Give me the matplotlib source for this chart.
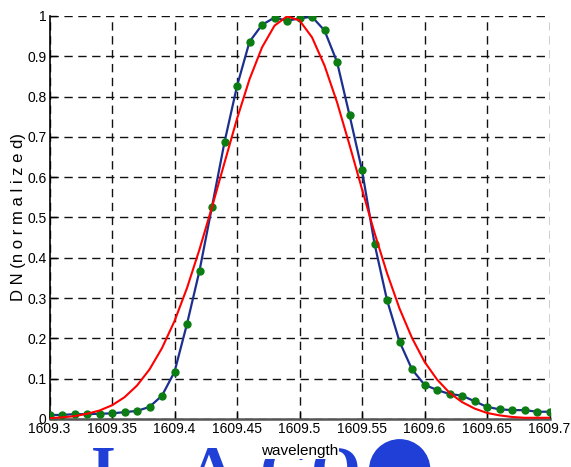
import matplotlib
matplotlib.use("Agg")
import matplotlib.pyplot as plt
from matplotlib.patches import Ellipse
import numpy as np

# wavelength grid (nm), 0.01 nm step
wavelength = np.round(np.arange(1609.30, 1609.705, 0.01), 2)

# measured DN, normalized
dn_measured = [0.010, 0.010, 0.012, 0.012, 0.013, 0.014, 0.017, 0.020, 0.030, 0.058,
               0.117, 0.236, 0.368, 0.527, 0.687, 0.826, 0.936, 0.978, 0.996, 0.988,
               0.994, 0.998, 0.964, 0.886, 0.754, 0.617, 0.435, 0.295, 0.192, 0.123,
               0.085, 0.072, 0.062, 0.058, 0.044, 0.030, 0.024, 0.022, 0.022, 0.018,
               0.018]

# fitted profile
dn_fit = [0.002, 0.004, 0.007, 0.013, 0.021, 0.034, 0.054, 0.083, 0.123, 0.176,
          0.243, 0.325, 0.421, 0.526, 0.636, 0.745, 0.843, 0.922, 0.976, 0.999,
          0.989, 0.947, 0.877, 0.786, 0.680, 0.570, 0.462, 0.362, 0.274, 0.201,
          0.142, 0.098, 0.065, 0.042, 0.026, 0.015, 0.009, 0.005, 0.003, 0.003,
          0.003]

x_ticks = [1609.3, 1609.35, 1609.4, 1609.45, 1609.5, 1609.55, 1609.6, 1609.65, 1609.7]
y_ticks = [0, 0.1, 0.2, 0.3, 0.4, 0.5, 0.6, 0.7, 0.8, 0.9, 1]

plt.rcParams['font.family'] = ['Liberation Sans', 'DejaVu Sans']

fig = plt.figure(figsize=(5.71, 4.67), dpi=100, facecolor='white')
ax = fig.add_axes([0.0867, 0.1028, 0.8757, 0.8630])

ax.plot(wavelength, dn_measured, color='#1c2f8f', lw=1.6, zorder=3)
ax.plot(wavelength, dn_measured, ls='none', marker='o', ms=5,
        mfc='#0b7d12', mec='#0b7d12', zorder=4)
ax.plot(wavelength, dn_fit, color='#ff0000', lw=1.5, zorder=5)

ax.set_xlim(1609.3, 1609.7)
ax.set_ylim(0, 1)
ax.set_xticks(x_ticks)
ax.set_xticklabels([f'{t:g}' for t in x_ticks])
ax.set_yticks(y_ticks)
ax.set_yticklabels([f'{t:g}' for t in y_ticks])
ax.tick_params(direction='in', length=5, width=1, labelsize=10, pad=2)

ax.grid(True, color='#111111', ls=(0, (6, 4)), lw=1.0)
ax.set_axisbelow(True)
for side in ('top', 'right'):
    ax.spines[side].set_visible(False)
ax.spines['left'].set_linewidth(1.2)
ax.spines['bottom'].set_linewidth(1.8)
ax.spines['bottom'].set_color('#555555')

ax.set_ylabel('D N (n o r m a l i z e d)', fontsize=12, labelpad=1)
ax.set_xlabel('wavelength', fontsize=11, labelpad=6,
              bbox=dict(facecolor='white', edgecolor='none', pad=0.5))

# partial blue logo below the axis, drawn underneath everything else
logo_blue = '#1f3fd6'
logo_font = dict(family=['Liberation Serif', 'DejaVu Serif'], color=logo_blue,
                 fontsize=46, fontweight='bold', va='top', ha='left', zorder=-1)
fig.text(0.160, 0.046, 'I', **logo_font)
fig.text(0.330, 0.046, 'A', **logo_font)
fig.text(0.455, 0.046, 'G', **logo_font)
fig.text(0.545, 0.046, 'O', **logo_font)
emblem = Ellipse((0.70, -0.006), 60 / 571, 60 / 467, transform=fig.transFigure,
                 color=logo_blue, zorder=-1)
fig.patches.append(emblem)

fig.savefig('out.png', dpi=100, facecolor='white')
